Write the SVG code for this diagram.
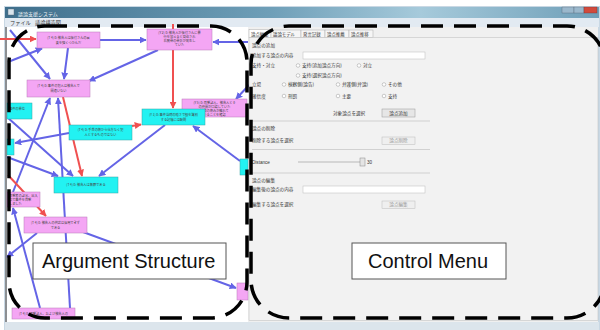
<svg xmlns="http://www.w3.org/2000/svg" width="600" height="330" viewBox="0 0 600 330">
<defs>
<linearGradient id="tbg" x1="0" x2="1" y1="0" y2="0">
<stop offset="0" stop-color="#3f6f8c"/><stop offset="0.45" stop-color="#6f9fb8"/><stop offset="0.7" stop-color="#a6cadb"/><stop offset="1" stop-color="#6f9fb8"/>
</linearGradient>
<marker id="ab" viewBox="0 0 10 10" refX="9" refY="5" markerWidth="3.5" markerHeight="3.5" orient="auto"><path d="M0,0 L10,5 L0,10z" fill="#6464e6"/></marker>
<marker id="ar" viewBox="0 0 10 10" refX="9" refY="5" markerWidth="3.5" markerHeight="3.5" orient="auto"><path d="M0,0 L10,5 L0,10z" fill="#f05050"/></marker>
</defs>
<style>
.jp{font-family:"Noto Sans CJK JP","Noto Sans",sans-serif;fill:#333}
.ctl{font-size:4.6px}
.nt{font-size:3.2px;text-anchor:middle;fill:#444}
.ntl{font-size:3.2px;fill:#444}
.pk{fill:#f4a6f4;stroke:#b87ab8;stroke-width:0.5}
.cy{fill:#22f2f2;stroke:#35a5a5;stroke-width:0.5}
.eb{stroke:#6464e6;stroke-width:2;fill:none;marker-end:url(#ab)}
.er{stroke:#f05050;stroke-width:2;fill:none;marker-end:url(#ar)}
.dash{fill:none;stroke:#000;stroke-width:3.5;stroke-dasharray:22 11}
.lbl{fill:#fff;stroke:#555;stroke-width:1}
.lt{font-family:"Liberation Sans",Arial,sans-serif;font-size:20px;fill:#111}
.radio{fill:#fff;stroke:#999;stroke-width:0.5}
.btn{fill:#e6e6e6;stroke:#999;stroke-width:0.5}
.sep{stroke:#c8c8c8;stroke-width:0.8}
.tbox{fill:#fff;stroke:#bbb;stroke-width:0.5}
.tab{fill:#f6f6f6;stroke:#aaa;stroke-width:0.5}
</style>

<!-- window chrome -->
<g id="window">
<rect x="0" y="0" width="600" height="330" fill="#fff"/>
<rect x="4" y="6" width="596" height="324" fill="#c9d8e4"/>
<rect x="5" y="7" width="594" height="11" fill="url(#tbg)"/>
<rect x="8" y="9" width="6" height="6" fill="#d8e4ec" stroke="#567" stroke-width="0.4"/>
<text x="18" y="15.5" class="jp" style="font-size:5px;fill:#f2f6f8">議論支援システム</text>
<rect x="562" y="7" width="12" height="6" fill="#9bb8cc" stroke="#567" stroke-width="0.4"/>
<rect x="574" y="7" width="10" height="6" fill="#9bb8cc" stroke="#567" stroke-width="0.4"/>
<rect x="584" y="7" width="13" height="6" fill="#d24a3c" stroke="#733" stroke-width="0.4"/>
<rect x="5" y="18" width="594" height="9" fill="#e2eaf2"/>
<text x="10" y="25" class="jp" style="font-size:5.2px">ファイル</text>
<text x="35" y="25" class="jp" style="font-size:5.2px">議論構造図</text>
<rect x="7" y="27" width="241" height="295" fill="#fff"/>
<rect x="248" y="27" width="350" height="295" fill="#f0f0f0"/>
<rect x="5" y="322" width="594" height="8" fill="#dce5ec"/>
<line x1="6" y1="27" x2="6" y2="322" stroke="#777" stroke-width="1.5"/>
</g>

<!-- connectors -->
<g id="connectors">
<path class="er" d="M0,39 L36,39"/>
<path class="eb" d="M100,40 L146,40"/>
<path class="eb" d="M248,42 L213,42"/>
<path class="er" d="M173,24 L173,108"/>
<path class="eb" d="M158,50 L89,81"/>
<path class="eb" d="M10,30 L50,79"/>
<path class="eb" d="M68,48 L64,79"/>
<path class="eb" d="M8,62 L42,48.5"/>
<path class="eb" d="M249,85 L236,99"/>
<path class="eb" d="M13,192 L50,98"/>
<path class="eb" d="M70,308 L58,98"/>
<path class="er" d="M63,97 L82,176"/>
<path class="eb" d="M7,117 L73,176"/>
<path class="eb" d="M7,157 L58,176"/>
<path class="eb" d="M69,133 L15,143"/>
<path class="er" d="M132,126 L141,124.5"/>
<path class="eb" d="M165,125 L99,176"/>
<path class="eb" d="M240,161 L193,126"/>
<path class="er" d="M8,175 L46,216"/>
<path class="eb" d="M40,308 L13,208"/>
<path class="eb" d="M37,233 L7,257"/>
<path class="eb" d="M83,232 L236,288"/>
</g>

<!-- nodes -->
<g id="nodeA"><rect class="pk" x="37" y="32" width="63" height="16"/>
<text class="jp nt" x="68.5" y="38.5">[T 4] 0: 被告人は仮付さんの肩</text><text class="jp nt" x="68.5" y="43.5">要を強くつかんだ</text></g>
<g id="nodeB"><rect class="pk" x="147" y="29" width="65" height="21"/>
<text class="jp nt" x="179.5" y="34">[Y 2] 0: 被告人が仮付さんに暴</text><text class="jp nt" x="179.5" y="38">行を加えると脅迫され</text><text class="jp nt" x="179.5" y="42">右腕骨の骨折が発生し</text><text class="jp nt" x="179.5" y="46">ていた</text></g>
<g id="nodeC"><rect class="pk" x="27" y="80" width="63" height="17"/>
<text class="jp nt" x="58.5" y="87">[T 4] 0: 事件の犯人は被告人で</text><text class="jp nt" x="58.5" y="92">間違いない</text></g>
<g id="nodeL1"><rect class="cy" x="7" y="103" width="25" height="16"/>
<text class="jp ntl" x="9" y="110">事件の単位</text></g>
<g id="nodeD"><rect class="pk" x="182" y="99" width="65" height="18"/>
<text class="jp nt" x="214.5" y="103.5">[Y 5] 0: 目撃証人、被告人とそ</text><text class="jp nt" x="214.5" y="107.5">の仲間が口論していた</text><text class="jp nt" x="214.5" y="111.5">背景の傷みが離れて</text><text class="jp nt" x="214.5" y="115.5">いることを確認</text></g>
<g id="nodeE"><rect class="cy" x="142" y="109" width="63" height="16"/>
<text class="jp nt" x="173.5" y="115.5">[Y 1] 0: 事件当時の暗さで顔を識別</text><text class="jp nt" x="173.5" y="120.5">する記憶には疑問</text></g>
<g id="nodeF"><rect class="cy" x="69" y="125" width="63" height="15"/>
<text class="jp nt" x="100.5" y="131">[T 4] 0: 手首の傷から仕方なく犯</text><text class="jp nt" x="100.5" y="136">人とするものではない</text></g>
<g id="nodeL2"><rect class="cy" x="7" y="139" width="7" height="16"/></g>
<g id="nodeR"><rect class="cy" x="240" y="159" width="8" height="16"/></g>
<g id="nodeG"><rect class="cy" x="54" y="177" width="64" height="16"/>
<text class="jp nt" x="86" y="186">[T 4] 0: 被告人は無罪である</text></g>
<g id="nodeH"><rect class="pk" x="7" y="192" width="33" height="15"/>
<text class="jp ntl" x="9" y="196.5">目撃者の証言、出入</text><text class="jp ntl" x="9" y="200.5">口で事件を目撃</text><text class="jp ntl" x="9" y="204.5">しました</text></g>
<g id="nodeI"><rect class="pk" x="24" y="217" width="63" height="16"/>
<text class="jp nt" x="55.5" y="223.5">[T 4] 0: 被告人の供述は信用できず</text><text class="jp nt" x="55.5" y="228.5">である</text></g>
<g id="nodeJ"><rect class="pk" x="237" y="283" width="11" height="17"/></g>
<g id="nodeK"><rect class="pk" x="12" y="308" width="63" height="11"/>
<text class="jp nt" x="43.5" y="314.5">[T 4] 0: 目撃証人、および被告人の</text></g>

<!-- control menu -->
<g id="controls">
<rect class="tab" x="249" y="29.5" width="22" height="8" fill="#fff" style="fill:#fff"/>
<rect class="tab" x="271" y="30" width="30" height="7.5"/>
<rect class="tab" x="301" y="30" width="24" height="7.5"/>
<rect class="tab" x="325" y="30" width="24" height="7.5"/>
<rect class="tab" x="349" y="30" width="24" height="7.5"/>
<text class="jp" x="251" y="35.5" style="font-size:4.4px">論点編集</text>
<text class="jp" x="273" y="35.5" style="font-size:4.4px">議論モデル</text>
<text class="jp" x="303" y="35.5" style="font-size:4.4px">発言記録</text>
<text class="jp" x="327" y="35.5" style="font-size:4.4px">論点推薦</text>
<text class="jp" x="351" y="35.5" style="font-size:4.4px">論点推移</text>
<rect x="249" y="37.5" width="349" height="283" fill="#f2f2f2" stroke="#bbb" stroke-width="0.5"/>

<text class="jp ctl" x="252" y="47">論点の追加</text>
<text class="jp ctl" x="252" y="57">追加する論点の内容</text>
<rect class="tbox" x="303" y="52" width="122" height="7"/>
<text class="jp ctl" x="252" y="67">支持・対立</text>
<circle class="radio" cx="298" cy="65.5" r="1.8"/><text class="jp ctl" x="302" y="67">支持(追加論点方向)</text>
<circle class="radio" cx="359" cy="65.5" r="1.8"/><text class="jp ctl" x="363" y="67">対立</text>
<circle class="radio" cx="298" cy="75.5" r="1.8"/><text class="jp ctl" x="302" y="77">支持(選択論点方向)</text>
<text class="jp ctl" x="252" y="86">立場</text>
<circle class="radio" cx="284" cy="84.5" r="1.8"/><text class="jp ctl" x="288" y="86">検察側(論告)</text>
<circle class="radio" cx="338" cy="84.5" r="1.8"/><text class="jp ctl" x="342" y="86">弁護側(弁論)</text>
<circle class="radio" cx="384" cy="84.5" r="1.8"/><text class="jp ctl" x="388" y="86">その他</text>
<text class="jp ctl" x="252" y="97.5">確信度</text>
<circle class="radio" cx="284" cy="96" r="1.8"/><text class="jp ctl" x="288" y="97.5">刑罰</text>
<circle class="radio" cx="338" cy="96" r="1.8"/><text class="jp ctl" x="342" y="97.5">主要</text>
<circle class="radio" cx="384" cy="96" r="1.8"/><text class="jp ctl" x="388" y="97.5">支持</text>
<text class="jp ctl" x="333" y="114.5">対象論点を選択</text>
<rect class="btn" x="382" y="109" width="33" height="8"/><text class="jp ctl" x="398.5" y="114.6" text-anchor="middle">論点追加</text>
<line class="sep" x1="252" y1="121" x2="430" y2="121"/>
<text class="jp ctl" x="252" y="129.5">論点の削除</text>
<text class="jp ctl" x="252" y="141.5">削除する論点を選択</text>
<rect class="btn" x="382" y="137" width="33" height="7.5" style="fill:#efefef;stroke:#bbb"/><text class="jp ctl" x="398.5" y="142.4" text-anchor="middle" style="fill:#999">論点削除</text>
<line class="sep" x1="252" y1="149.5" x2="430" y2="149.5"/>
<text x="252" y="163.5" style="font-family:'Liberation Sans',Arial,sans-serif;font-size:4.6px;fill:#333">Distance</text>
<line x1="298" y1="162" x2="362" y2="162" stroke="#aaa" stroke-width="0.8"/>
<rect x="360" y="158" width="5" height="8" fill="#e4e4e4" stroke="#888" stroke-width="0.5"/>
<text x="367" y="163.5" style="font-family:'Liberation Sans',Arial,sans-serif;font-size:4.6px;fill:#333">30</text>
<line class="sep" x1="252" y1="173" x2="430" y2="173"/>
<text class="jp ctl" x="252" y="181.5">論点の編集</text>
<text class="jp ctl" x="252" y="191">編集後の論点の内容</text>
<rect class="tbox" x="303" y="186" width="122" height="7"/>
<text class="jp ctl" x="252" y="205.5">編集する論点を選択</text>
<rect class="btn" x="382" y="201" width="33" height="7.5" style="fill:#efefef;stroke:#bbb"/><text class="jp ctl" x="398.5" y="206.4" text-anchor="middle" style="fill:#999">論点編集</text>
</g>

<!-- region outlines -->
<g id="regionArgument">
<rect class="dash" x="9" y="26" width="238" height="292" rx="36" ry="36"/>
<rect class="lbl" x="33" y="243" width="193" height="36"/>
<text class="lt" x="42" y="268">Argument Structure</text>
</g>
<g id="regionControl">
<rect class="dash" x="251" y="26" width="354" height="292" rx="38" ry="38"/>
<rect class="lbl" x="352" y="243" width="154" height="36"/>
<text class="lt" x="368" y="268">Control Menu</text>
</g>
</svg>
